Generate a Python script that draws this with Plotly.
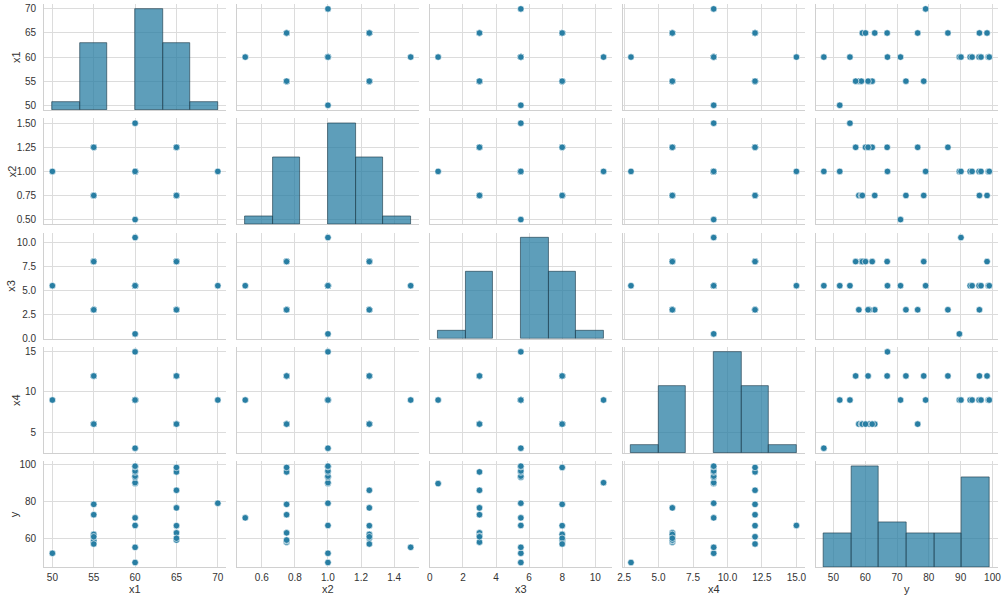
import numpy as np
import plotly.graph_objects as go

# ---- data (central composite design, 30 runs) ----
x1 = [55, 65, 55, 65, 55, 65, 55, 65, 55, 65, 55, 65, 55, 65, 55, 65,
      50, 70, 60, 60, 60, 60, 60, 60,
      60, 60, 60, 60, 60, 60]
x2 = [0.75, 0.75, 1.25, 1.25, 0.75, 0.75, 1.25, 1.25, 0.75, 0.75, 1.25, 1.25, 0.75, 0.75, 1.25, 1.25,
      1.0, 1.0, 0.5, 1.5, 1.0, 1.0, 1.0, 1.0,
      1.0, 1.0, 1.0, 1.0, 1.0, 1.0]
x3 = [3, 3, 3, 3, 8, 8, 8, 8, 3, 3, 3, 3, 8, 8, 8, 8,
      5.5, 5.5, 5.5, 5.5, 0.5, 10.5, 5.5, 5.5,
      5.5, 5.5, 5.5, 5.5, 5.5, 5.5]
x4 = [6, 6, 6, 6, 6, 6, 6, 6, 12, 12, 12, 12, 12, 12, 12, 12,
      9, 9, 9, 9, 9, 9, 3, 15,
      9, 9, 9, 9, 9, 9]
y = [58.0, 63.0, 61.3, 76.5, 58.8, 59.1, 62.2, 60.1, 72.8, 95.9, 60.9, 86.0, 78.4, 98.3, 57.0, 66.9,
     52.0, 79.0, 71.1, 55.2, 89.6, 90.1, 47.0, 67.0,
     93.0, 93.6, 95.8, 96.4, 98.7, 99.0]

names = ["x1", "x2", "x3", "x4", "y"]
data = [x1, x2, x3, x4, y]

x_tickvals = [[50, 55, 60, 65, 70], [0.6, 0.8, 1.0, 1.2, 1.4], [0, 2, 4, 6, 8, 10],
              [2.5, 5, 7.5, 10, 12.5, 15], [50, 60, 70, 80, 90, 100]]
x_ticktext = [["50", "55", "60", "65", "70"], ["0.6", "0.8", "1.0", "1.2", "1.4"],
              ["0", "2", "4", "6", "8", "10"], ["2.5", "5.0", "7.5", "10.0", "12.5", "15.0"],
              ["50", "60", "70", "80", "90", "100"]]
y_tickvals = [[50, 55, 60, 65, 70], [0.5, 0.75, 1.0, 1.25, 1.5], [0, 2.5, 5, 7.5, 10],
              [5, 10, 15], [60, 80, 100]]
y_ticktext = [["50", "55", "60", "65", "70"], ["0.50", "0.75", "1.00", "1.25", "1.50"],
              ["0.0", "2.5", "5.0", "7.5", "10.0"], ["5", "10", "15"], ["60", "80", "100"]]

# ---- style ----
W, H = 1005, 602
COL_LEFT = [38.5 + 194.8 * j for j in range(5)]
COL_W = 183.8
ROW_TOP = [1.1 + 116.05 * i for i in range(5)]
ROW_H = 107.6
GRID = "#dcdcdc"
SPINE = "#d0d0d0"
DOT = "rgb(40,126,163)"
BAR = "rgba(40,126,163,0.75)"
BAR_EDGE = "rgba(30,60,75,0.8)"
FONT = "Liberation Sans, Arial, sans-serif"
TXT = "#333333"
YTITLE_X = [10, 6, 5, 10, 8]

def prange(v):
    lo, hi = min(v), max(v)
    p = 0.05 * (hi - lo)
    return [lo - p, hi + p]

ranges = [prange(v) for v in data]

fig = go.Figure()
layout = {}
for i in range(5):
    for j in range(5):
        k = i * 5 + j + 1
        xd = [COL_LEFT[j] / W, (COL_LEFT[j] + COL_W) / W]
        yd = [1 - (ROW_TOP[i] + ROW_H) / H, 1 - ROW_TOP[i] / H]
        layout[f"xaxis{k}"] = dict(
            domain=xd, anchor=f"y{k}", range=ranges[j],
            tickmode="array", tickvals=x_tickvals[j], ticktext=x_ticktext[j],
            showticklabels=(i == 4), showgrid=True, gridcolor=GRID, gridwidth=1,
            zeroline=False, showline=True, linecolor=SPINE, linewidth=1,
            ticks="", ticklabelstandoff=1,
            tickfont=dict(family=FONT, size=10, color=TXT), fixedrange=True)
        layout[f"yaxis{k}"] = dict(
            domain=yd, anchor=f"x{k}", range=ranges[i],
            tickmode="array", tickvals=y_tickvals[i], ticktext=y_ticktext[i],
            showticklabels=(j == 0), showgrid=True, gridcolor=GRID, gridwidth=1,
            zeroline=False, showline=True, linecolor=SPINE, linewidth=1,
            ticks="", ticklabelstandoff=5,
            tickfont=dict(family=FONT, size=10, color=TXT), fixedrange=True)
        if i != j:
            fig.add_trace(go.Scatter(
                x=data[j], y=data[i], mode="markers",
                xaxis=f"x{k}", yaxis=f"y{k}",
                marker=dict(size=6.5, color=DOT, line=dict(color="white", width=0.6)),
                hoverinfo="skip", showlegend=False))
        else:
            # empty trace so the diagonal cell keeps its grid and tick labels
            fig.add_trace(go.Scatter(
                x=[], y=[], mode="markers", xaxis=f"x{k}", yaxis=f"y{k}",
                hoverinfo="skip", showlegend=False))

# diagonal histograms on their own hidden axes, same cell position
for i in range(5):
    xd = [COL_LEFT[i] / W, (COL_LEFT[i] + COL_W) / W]
    yd = [1 - (ROW_TOP[i] + ROW_H) / H, 1 - ROW_TOP[i] / H]
    counts, edges = np.histogram(data[i], bins=6)
    hid = 26 + i
    layout[f"xaxis{hid}"] = dict(domain=xd, anchor=f"y{hid}", range=ranges[i],
                                 visible=False, fixedrange=True)
    layout[f"yaxis{hid}"] = dict(domain=yd, anchor=f"x{hid}",
                                 range=[0, counts.max() * 1.05],
                                 visible=False, fixedrange=True)
    heights = [int(c) if c > 0 else None for c in counts]
    fig.add_trace(go.Bar(
        x=(edges[:-1] + edges[1:]) / 2, y=heights, width=np.diff(edges),
        xaxis=f"x{hid}", yaxis=f"y{hid}",
        marker=dict(color=BAR, line=dict(color=BAR_EDGE, width=0.8)),
        hoverinfo="skip", showlegend=False))

annotations = []
for j in range(5):
    annotations.append(dict(
        text=names[j], xref="paper", yref="paper",
        x=(COL_LEFT[j] + COL_W / 2) / W, y=0,
        showarrow=False, xanchor="center", yanchor="bottom", borderpad=0,
        font=dict(family=FONT, size=11, color=TXT)))
for i in range(5):
    annotations.append(dict(
        text=names[i], xref="paper", yref="paper",
        x=YTITLE_X[i] / W, y=1 - (ROW_TOP[i] + ROW_H / 2) / H,
        showarrow=False, xanchor="center", yanchor="middle", textangle=-90,
        borderpad=0, font=dict(family=FONT, size=11, color=TXT)))

fig.update_layout(
    width=W, height=H, margin=dict(l=0, r=0, t=0, b=0),
    paper_bgcolor="white", plot_bgcolor="rgba(0,0,0,0)",
    showlegend=False, bargap=0, annotations=annotations, **layout)

fig.write_html("out.html")
